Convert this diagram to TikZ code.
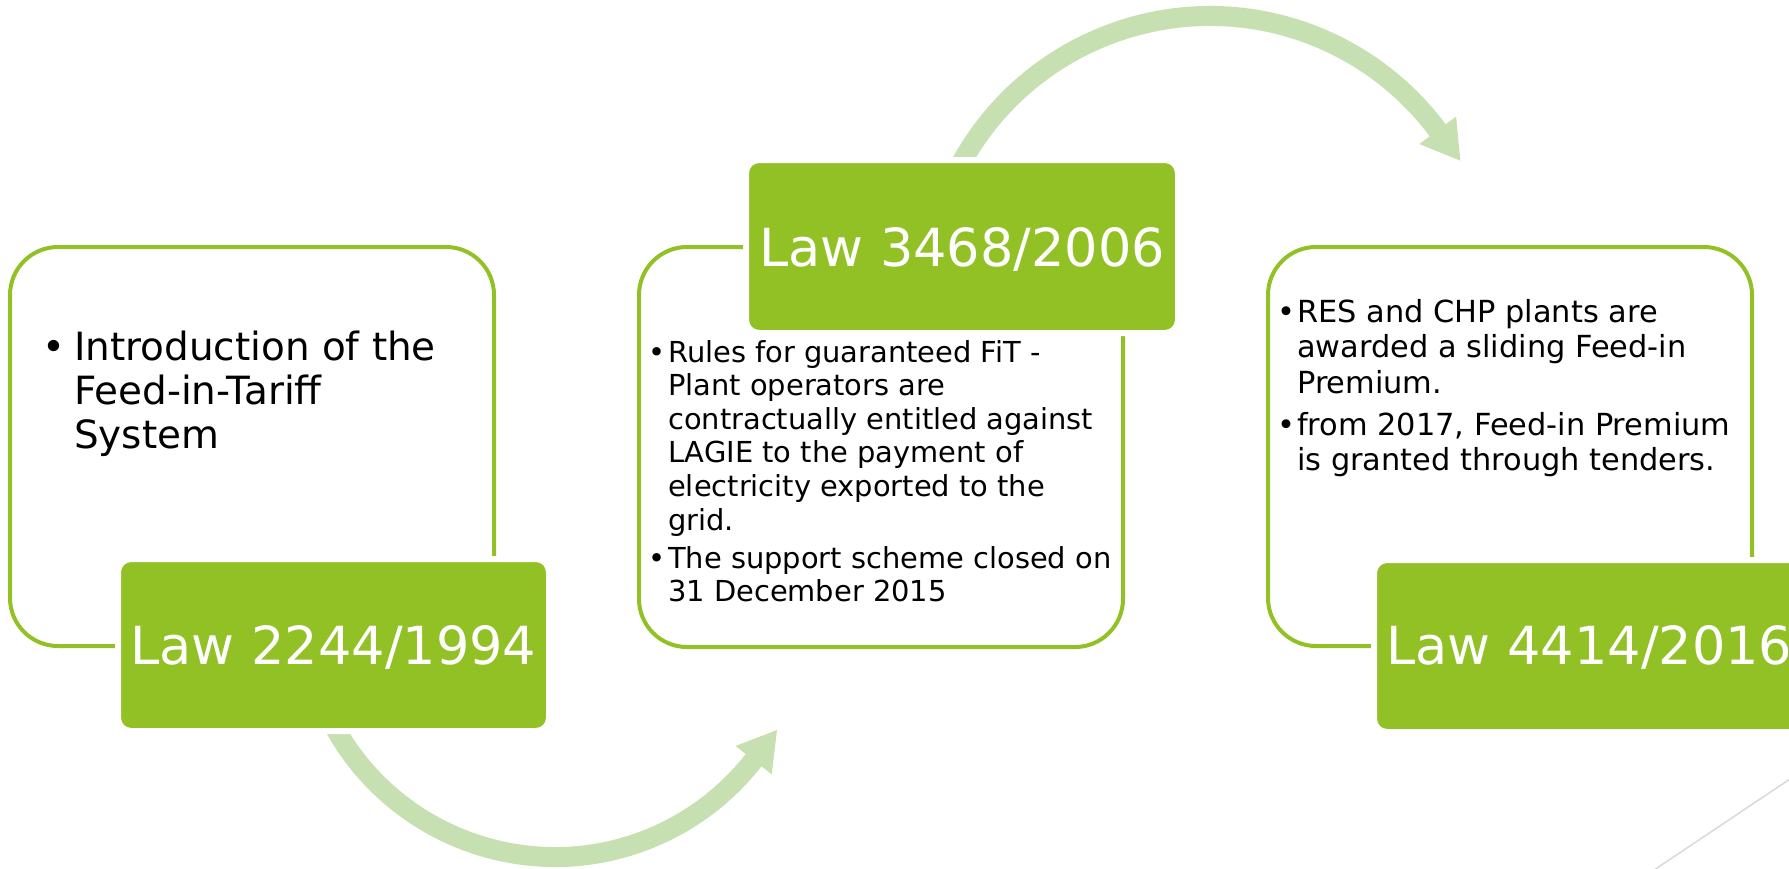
\documentclass[tikz,border=0pt]{standalone}
\usepackage{fontspec}
\setmainfont{DejaVu Sans}
\usetikzlibrary{calc}
\definecolor{lgreen}{RGB}{146,193,38}
\definecolor{larc}{RGB}{199,224,178}
\definecolor{lgray}{RGB}{217,217,217}
\tikzset{
  outlinebox/.style={draw=lgreen, line width=4pt, rounded corners=48pt, rectangle, inner sep=0pt},
  lawbox/.style={fill=lgreen, draw=white, line width=6pt, rounded corners=13pt, rectangle, inner sep=0pt},
  arcband/.style={draw=larc, line width=20pt},
  arctip/.style={fill=larc},
  lawtitle/.style={text=white, font=\fontsize{52.5}{62}\selectfont, inner sep=0pt, anchor=base},
  bodytext/.style={text=black, inner sep=0pt, anchor=base west},
}
\begin{document}
\begin{tikzpicture}[x=1pt,y=1pt]
\useasboundingbox (0,0) rectangle (1789,-868);
% centres of the circular arrows
\coordinate (c1) at (555,-605);
\coordinate (c2) at (1210,-300);
% bottom arrow
\begin{scope}
  \clip (0,-733) rectangle (1789,-900);
  \draw[arcband] ($(c1)+(205:252)$) arc[start angle=205, end angle=322.5, radius=252];
\end{scope}
\fill[arctip] ($(c1)+(322:275)$) -- ($(c1)+(330.6:254.8)$) -- ($(c1)+(322:229)$) -- cycle;
% top arrow
\begin{scope}
  \clip (0,-157) rectangle (1789,10);
  \draw[arcband] ($(c2)+(152:284)$) arc[start angle=152, end angle=36.2, radius=284];
\end{scope}
\fill[arctip] ($(c2)+(36.7:307)$) -- ($(c2)+(29.1:286.5)$) -- ($(c2)+(36.7:261)$) -- cycle;
% outline boxes
\node[outlinebox, minimum width=484pt, minimum height=399pt] (o1) at (252,-446.5) {};
\node[outlinebox, minimum width=484pt, minimum height=400pt] (o2) at (881,-447) {};
\node[outlinebox, minimum width=484pt, minimum height=399pt] (o3) at (1510,-446.5) {};
% law boxes
\node[lawbox, minimum width=431pt, minimum height=172pt] (l1) at (333.5,-645) {};
\node[lawbox, minimum width=432pt, minimum height=173pt] (l2) at (962,-246.5) {};
\node[lawbox, minimum width=431pt, minimum height=172pt] (l3) at (1589.5,-646) {};
\node[lawtitle] (t1) at (333.5,-664) {Law 2244/1994};
\node[lawtitle] (t2) at (962,-266) {Law 3468/2006};
\node[lawtitle] (t3) at (1589.5,-664) {Law 4414/2016};
% body texts
\node[bodytext] (b1) at (42,-360) {\fontsize{38.9}{44}\selectfont
  \begin{tabular}[t]{@{}l@{}l@{}}
  \makebox[32pt][l]{•} & Introduction of the\\
   & Feed-in-Tariff\\
   & System
  \end{tabular}};
\node[bodytext] (b2) at (648,-362) {\fontsize{28.9}{33.6}\selectfont
  \begin{tabular}[t]{@{}l@{}l@{}}
  \makebox[20pt][l]{•} & Rules for guaranteed FiT -\\
   & Plant operators are\\
   & contractually entitled against\\
   & LAGIE to the payment of\\
   & electricity exported to the\\
   & grid.\\[4.4pt]
  \makebox[20pt][l]{•} & The support scheme closed on\\
   & 31 December 2015
  \end{tabular}};
\node[bodytext] (b3) at (1277,-322) {\fontsize{30.4}{35.5}\selectfont
  \begin{tabular}[t]{@{}l@{}l@{}}
  \makebox[20pt][l]{•} & RES and CHP plants are\\
   & awarded a sliding Feed-in\\
   & Premium.\\[6.5pt]
  \makebox[20pt][l]{•} & from 2017, Feed-in Premium\\
   & is granted through tenders.
  \end{tabular}};
% decorative line
\coordinate (g1) at (1639,-880);
\coordinate (g2) at (1805,-769);
\draw[lgray, line width=1.5pt] (g1) -- (g2);
\end{tikzpicture}
\end{document}
